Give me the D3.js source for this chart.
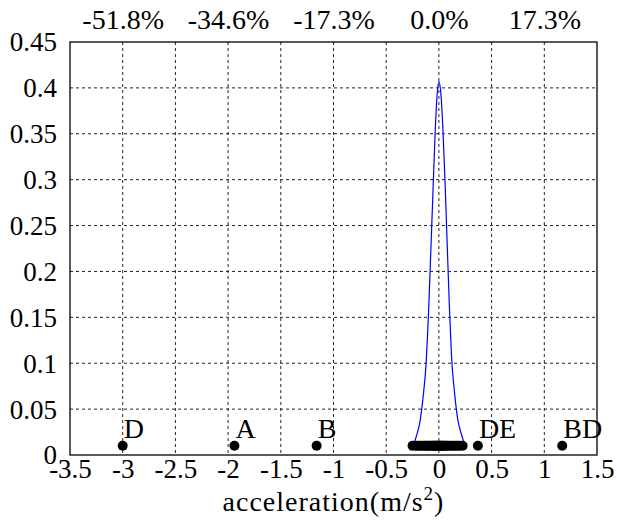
<!DOCTYPE html>
<html>
<head>
<meta charset="utf-8">
<script src="https://cdn.jsdelivr.net/npm/d3@7"></script>
<style>
  html, body { margin: 0; padding: 0; background: #fff; }
</style>
</head>
<body>
<div id="chart"></div>
<script>
// Density curve
const curveX = [-0.27, -0.24, -0.21, -0.18, -0.15, -0.12, -0.10, -0.08, -0.06, -0.04, -0.02, 0,
                0.02, 0.04, 0.06, 0.08, 0.10, 0.12, 0.15, 0.18, 0.21, 0.24, 0.26];
const curveY = [0.005, 0.012, 0.022, 0.036, 0.063, 0.102, 0.150, 0.212, 0.275, 0.338, 0.387, 0.407,
                0.392, 0.350, 0.292, 0.225, 0.160, 0.107, 0.066, 0.038, 0.024, 0.013, 0.007];

// Samples near zero (drawn as one thick band of dots)
const clusterX = [-0.25, -0.22, -0.2, -0.18, -0.16, -0.14, -0.12, -0.11, -0.09, -0.08, -0.06, -0.05,
                  -0.04, -0.03, -0.02, -0.01, 0, 0.01, 0.02, 0.03, 0.04, 0.05, 0.07, 0.08, 0.1,
                  0.12, 0.14, 0.16, 0.18, 0.2, 0.225];
const markerLevel = 0.01;

// Labelled outliers
const outlierX = [-3.0, -1.94, -1.16, 0.37, 1.17];
const outlierLabels = ['D', 'A', 'B', 'DE', 'BD'];

// Axis ticks
const xTicks = [-3.5, -3, -2.5, -2, -1.5, -1, -0.5, 0, 0.5, 1, 1.5];
const yTicks = [0, 0.05, 0.1, 0.15, 0.2, 0.25, 0.3, 0.35, 0.4, 0.45];
const topTicks = [-3, -2, -1, 0, 1];
const topLabels = ['-51.8%', '-34.6%', '-17.3%', '0.0%', '17.3%'];

const FONT = '"Liberation Serif", "DejaVu Serif", serif';

const width = 617, height = 521;
const margin = { top: 42, right: 20, bottom: 66, left: 70 };
const plotW = width - margin.left - margin.right;
const plotH = height - margin.top - margin.bottom;

const svg = d3.select('#chart').append('svg')
    .attr('width', width)
    .attr('height', height)
    .attr('font-family', FONT);

const g = svg.append('g')
    .attr('transform', `translate(${margin.left},${margin.top})`);

const x = d3.scaleLinear().domain([-3.5, 1.5]).range([0, plotW]);
const y = d3.scaleLinear().domain([0, 0.45]).range([plotH, 0]);

// Grid
g.append('g')
    .selectAll('line')
    .data(xTicks.slice(1, -1))
    .join('line')
    .attr('x1', d => x(d)).attr('x2', d => x(d))
    .attr('y1', 0).attr('y2', plotH)
    .attr('stroke', '#222').attr('stroke-width', 1)
    .attr('stroke-dasharray', '3,3');

g.append('g')
    .selectAll('line')
    .data(yTicks.slice(1, -1))
    .join('line')
    .attr('x1', 0).attr('x2', plotW)
    .attr('y1', d => y(d)).attr('y2', d => y(d))
    .attr('stroke', '#222').attr('stroke-width', 1)
    .attr('stroke-dasharray', '3,3');

function styleAxis(sel, size) {
    sel.attr('font-family', FONT);
    sel.select('.domain').remove();
    sel.selectAll('text')
        .style('font-family', FONT)
        .style('font-size', size + 'px')
        .attr('fill', '#000');
}

// Bottom axis
const xAxis = g.append('g')
    .attr('transform', `translate(0,${plotH})`)
    .call(d3.axisBottom(x).tickValues(xTicks).tickSize(0).tickPadding(4)
        .tickFormat(d => String(d)));
styleAxis(xAxis, 27);
xAxis.selectAll('text').attr('dy', '0.71em');

// Left axis
const yAxis = g.append('g')
    .call(d3.axisLeft(y).tickValues(yTicks).tickSize(0).tickPadding(13)
        .tickFormat(d => String(d)));
styleAxis(yAxis, 27);
yAxis.selectAll('text').attr('dy', '0.33em');

// Top axis (relative change)
const topAxis = g.append('g')
    .call(d3.axisTop(x).tickValues(topTicks).tickSize(0).tickPadding(13)
        .tickFormat((d, i) => topLabels[i]));
styleAxis(topAxis, 28);

// Frame
g.append('rect')
    .attr('x', 0).attr('y', 0)
    .attr('width', plotW).attr('height', plotH)
    .attr('fill', 'none')
    .attr('stroke', '#000').attr('stroke-width', 1.3);

// Density curve
const line = d3.line()
    .x((d, i) => x(curveX[i]))
    .y(d => y(d))
    .curve(d3.curveMonotoneX);

g.append('path')
    .datum(curveY)
    .attr('d', line)
    .attr('fill', 'none')
    .attr('stroke', '#0000ff')
    .attr('stroke-width', 1.2);

// Sample dots
g.append('g')
    .selectAll('circle')
    .data(clusterX.concat(outlierX))
    .join('circle')
    .attr('cx', d => x(d))
    .attr('cy', y(markerLevel))
    .attr('r', 5)
    .attr('fill', '#000');

// Outlier labels
g.append('g')
    .selectAll('text')
    .data(outlierX)
    .join('text')
    .attr('x', d => x(d) + 1)
    .attr('y', y(markerLevel) - 8)
    .style('font-size', '28px')
    .text((d, i) => outlierLabels[i]);

// Axis title
const title = svg.append('text')
    .attr('x', margin.left + plotW / 2)
    .attr('y', 511)
    .attr('text-anchor', 'middle')
    .style('font-size', '28px')
    .style('letter-spacing', '1px');
title.append('tspan').text('acceleration(m/s');
title.append('tspan').attr('dy', -11).style('font-size', '19px').text('2');
title.append('tspan').attr('dy', 11).text(')');
</script>
</body>
</html>
